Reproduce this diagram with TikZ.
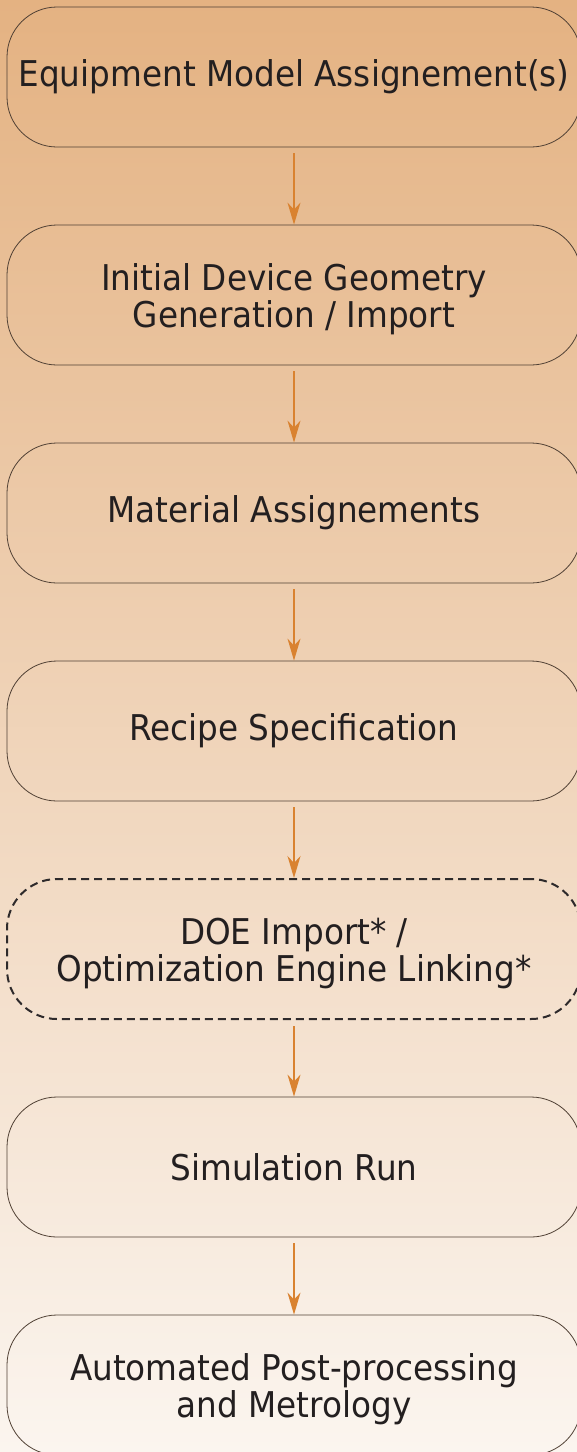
\documentclass[tikz,border=0pt]{standalone}
\usepackage{fontspec}
\setmainfont[FakeStretch=0.92]{DejaVu Sans}
\usetikzlibrary{arrows.meta}
\definecolor{bgtop}{RGB}{228,178,130}
\definecolor{bgbottom}{RGB}{251,245,239}
\definecolor{edge}{RGB}{80,64,52}
\definecolor{flow}{RGB}{217,130,48}
\definecolor{ink}{RGB}{35,31,32}
% two centred lines; the extra declared height sets them a little below the middle
\newcommand{\twolines}[2]{\raisebox{0pt}[\dimexpr\height+11pt\relax]{\begin{tabular}{@{}c@{}}#1\\#2\end{tabular}}}
\tikzset{
  stepbox/.style={draw=edge, line width=0.8pt, rounded corners=50pt,
    minimum width=574pt, minimum height=140pt, inner sep=0pt,
    align=center, text=ink,
    font=\fontsize{35.5pt}{33pt}\selectfont},
  optbox/.style={stepbox, draw=ink!95, line width=2pt,
    dash pattern=on 8pt off 5pt},
  flowarrow/.style={draw=flow, line width=1.4pt,
    -{Stealth[length=22pt, width=13pt, inset=7pt]}},
}
\begin{document}
\begin{tikzpicture}[x=1pt, y=1pt]
  \useasboundingbox (0,0) rectangle (577,-1452);
  \clip (0,0) rectangle (577,-1452);
  \shade[top color=bgtop, bottom color=bgbottom] (0,0) rectangle (577,-1452);

  \node[stepbox] (b1) at (294,-77)   {Equipment Model Assignement(s)};
  \node[stepbox] (b2) at (294,-295)  {\twolines{Initial Device Geometry}{Generation / Import}};
  \node[stepbox] (b3) at (294,-513)  {Material Assignements};
  \node[stepbox] (b4) at (294,-731)  {Recipe Specification};
  \node[optbox]  (b5) at (294,-949)  {\twolines{DOE Import* /}{Optimization Engine Linking*}};
  \node[stepbox] (b6) at (294,-1167) {Simulation Run};
  \node[stepbox] (b7) at (294,-1385) {\twolines{Automated Post-processing}{and Metrology}};

  \foreach \a/\b in {b1/b2, b2/b3, b3/b4, b4/b5, b5/b6, b6/b7}
    \draw[flowarrow] ([yshift=-6pt]\a.south) -- (\b.north);
\end{tikzpicture}
\end{document}
